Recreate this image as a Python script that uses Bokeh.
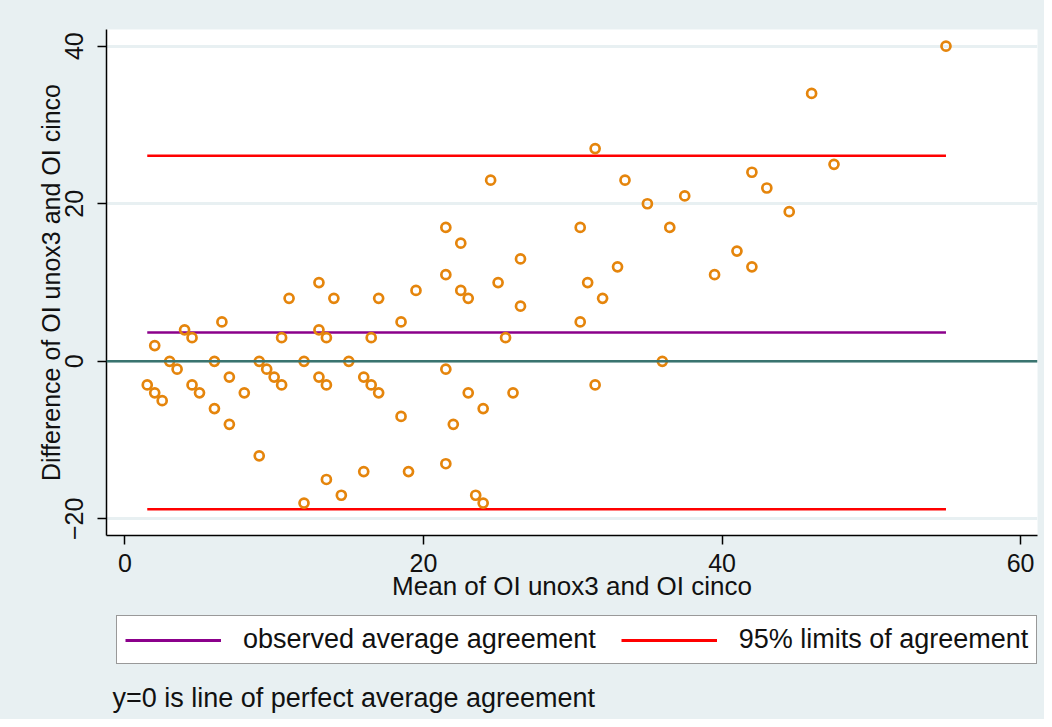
from bokeh.plotting import figure
from bokeh.layouts import column
from bokeh.models import FixedTicker, Span, Legend, LegendItem, Label, Range1d
from bokeh.embed import file_html
from bokeh.resources import INLINE

# Bland-Altman data: mean of the two measurements and their difference
mean_vals = [1.5, 2, 2, 2.5, 3, 3.5, 4, 4.5, 4.5, 5,
             6, 6, 6.5, 7, 7, 8, 9, 9, 9.5, 10,
             10.5, 10.5, 11, 12, 12, 13, 13, 13, 13.5, 13.5,
             13.5, 14, 14.5, 15, 16, 16, 16.5, 16.5, 17, 17,
             18.5, 18.5, 19, 19.5, 21.5, 21.5, 21.5, 21.5, 22, 22.5,
             22.5, 23, 23, 23.5, 24, 24, 24.5, 25, 25.5, 26,
             26.5, 26.5, 30.5, 30.5, 31, 31.5, 31.5, 32, 33, 33.5,
             35, 36, 36.5, 37.5, 39.5, 41, 42, 42, 43, 44.5,
             46, 47.5, 55]
diff_vals = [-3, 2, -4, -5, 0, -1, 4, 3, -3, -4,
             0, -6, 5, -2, -8, -4, 0, -12, -1, -2,
             3, -3, 8, 0, -18, 10, 4, -2, 3, -3,
             -15, 8, -17, 0, -2, -14, 3, -3, 8, -4,
             5, -7, -14, 9, 17, 11, -1, -13, -8, 15,
             9, 8, -4, -17, -6, -18, 23, 10, 3, -4,
             13, 7, 17, 5, 10, 27, -3, 8, 12, 23,
             20, 0, 17, 21, 11, 14, 24, 12, 22, 19,
             34, 25, 40]

mean_diff = 3.66
upper_loa = 26.09
lower_loa = -18.77

x_ticks = [0, 20, 40, 60]
y_ticks = [-20, 0, 20, 40]

x_title = "Mean of OI unox3 and OI cinco"
y_title = "Difference of OI unox3 and OI cinco"
legend_labels = ["observed average agreement", "95% limits of agreement"]
note_text = "y=0 is line of perfect average agreement"

BG = "#E8F0F2"
FONT = "Liberation Sans"
TXT = "#111111"
PURPLE = "#8B008B"
RED = "#FF0000"

p = figure(width=1044, height=610, output_backend="svg", toolbar_location=None,
           x_range=Range1d(-1.23, 61.13), y_range=Range1d(-22.11, 42.12),
           min_border_left=106, min_border_right=7, min_border_top=29,
           min_border_bottom=75,
           background_fill_color="white", border_fill_color=BG,
           outline_line_color=None)

# grid
p.xgrid.visible = False
p.ygrid.ticker = FixedTicker(ticks=y_ticks)
p.ygrid.grid_line_color = BG
p.ygrid.grid_line_width = 3

# axes
for ax in (p.xaxis, p.yaxis):
    ax.axis_line_color = "black"
    ax.axis_line_width = 1.5
    ax.major_tick_line_color = "black"
    ax.major_tick_line_width = 1.5
    ax.major_tick_out = 9
    ax.major_tick_in = 0
    ax.minor_tick_line_color = None
    ax.major_label_text_font = FONT
    ax.major_label_text_font_size = "25px"
    ax.major_label_text_color = TXT
    ax.axis_label_text_font = FONT
    ax.axis_label_text_font_style = "normal"
    ax.axis_label_text_color = TXT

p.xaxis.ticker = FixedTicker(ticks=x_ticks)
p.xaxis.axis_label = x_title
p.xaxis.axis_label_text_font_size = "26px"
p.xaxis.major_label_standoff = 9
p.xaxis.axis_label_standoff = -4

p.yaxis.ticker = FixedTicker(ticks=y_ticks)
p.yaxis.axis_label = y_title
p.yaxis.axis_label_text_font_size = "25px"
p.yaxis.major_label_orientation = "vertical"
p.yaxis.major_label_standoff = 14
p.yaxis.axis_label_standoff = -2

# zero line
p.add_layout(Span(location=0, dimension="width", line_color="#3A746F", line_width=2.5))

x_lo = min(mean_vals)
x_hi = max(mean_vals)
p.line([x_lo, x_hi], [mean_diff, mean_diff], line_color=PURPLE, line_width=2.5)
p.line([x_lo, x_hi], [upper_loa, upper_loa], line_color=RED, line_width=2.5)
p.line([x_lo, x_hi], [lower_loa, lower_loa], line_color=RED, line_width=2.5)

p.scatter(mean_vals, diff_vals, marker="circle", size=9, fill_color=None,
          line_color="#E5850C", line_width=2.7)

# legend / note strip (its own plot, the lines themselves fall outside its ranges)
q = figure(width=1044, height=109, output_backend="svg", toolbar_location=None,
           x_axis_type=None, y_axis_type=None,
           x_range=Range1d(1000, 1001), y_range=Range1d(1000, 1001),
           min_border_left=106, min_border_right=7, min_border_top=0,
           min_border_bottom=0, outline_line_color=None,
           background_fill_color=BG, border_fill_color=BG)
q.xgrid.visible = False
q.ygrid.visible = False
lg_mean = q.line([x_lo, x_hi], [mean_diff, mean_diff], line_color=PURPLE, line_width=3)
lg_loa = q.line([x_lo, x_hi], [upper_loa, upper_loa], line_color=RED, line_width=3)

legend = Legend(items=[LegendItem(label=legend_labels[0], renderers=[lg_mean]),
                       LegendItem(label=legend_labels[1], renderers=[lg_loa])],
                location=(10, 55), orientation="horizontal",
                glyph_width=96, glyph_height=20, label_standoff=22, spacing=25,
                padding=8, margin=0,
                label_text_font=FONT, label_text_font_size="27px",
                label_text_color=TXT,
                border_line_color="#333333", border_line_width=1.5,
                background_fill_color="white", background_fill_alpha=1.0)
q.add_layout(legend)

q.add_layout(Label(x=6, y=22, x_units="screen", y_units="screen", text=note_text,
                   text_font=FONT, text_font_size="27px", text_color=TXT,
                   text_baseline="alphabetic"))

layout = column(p, q, spacing=0, styles={"background-color": BG})
open("out.html", "w").write(file_html(layout, INLINE))
